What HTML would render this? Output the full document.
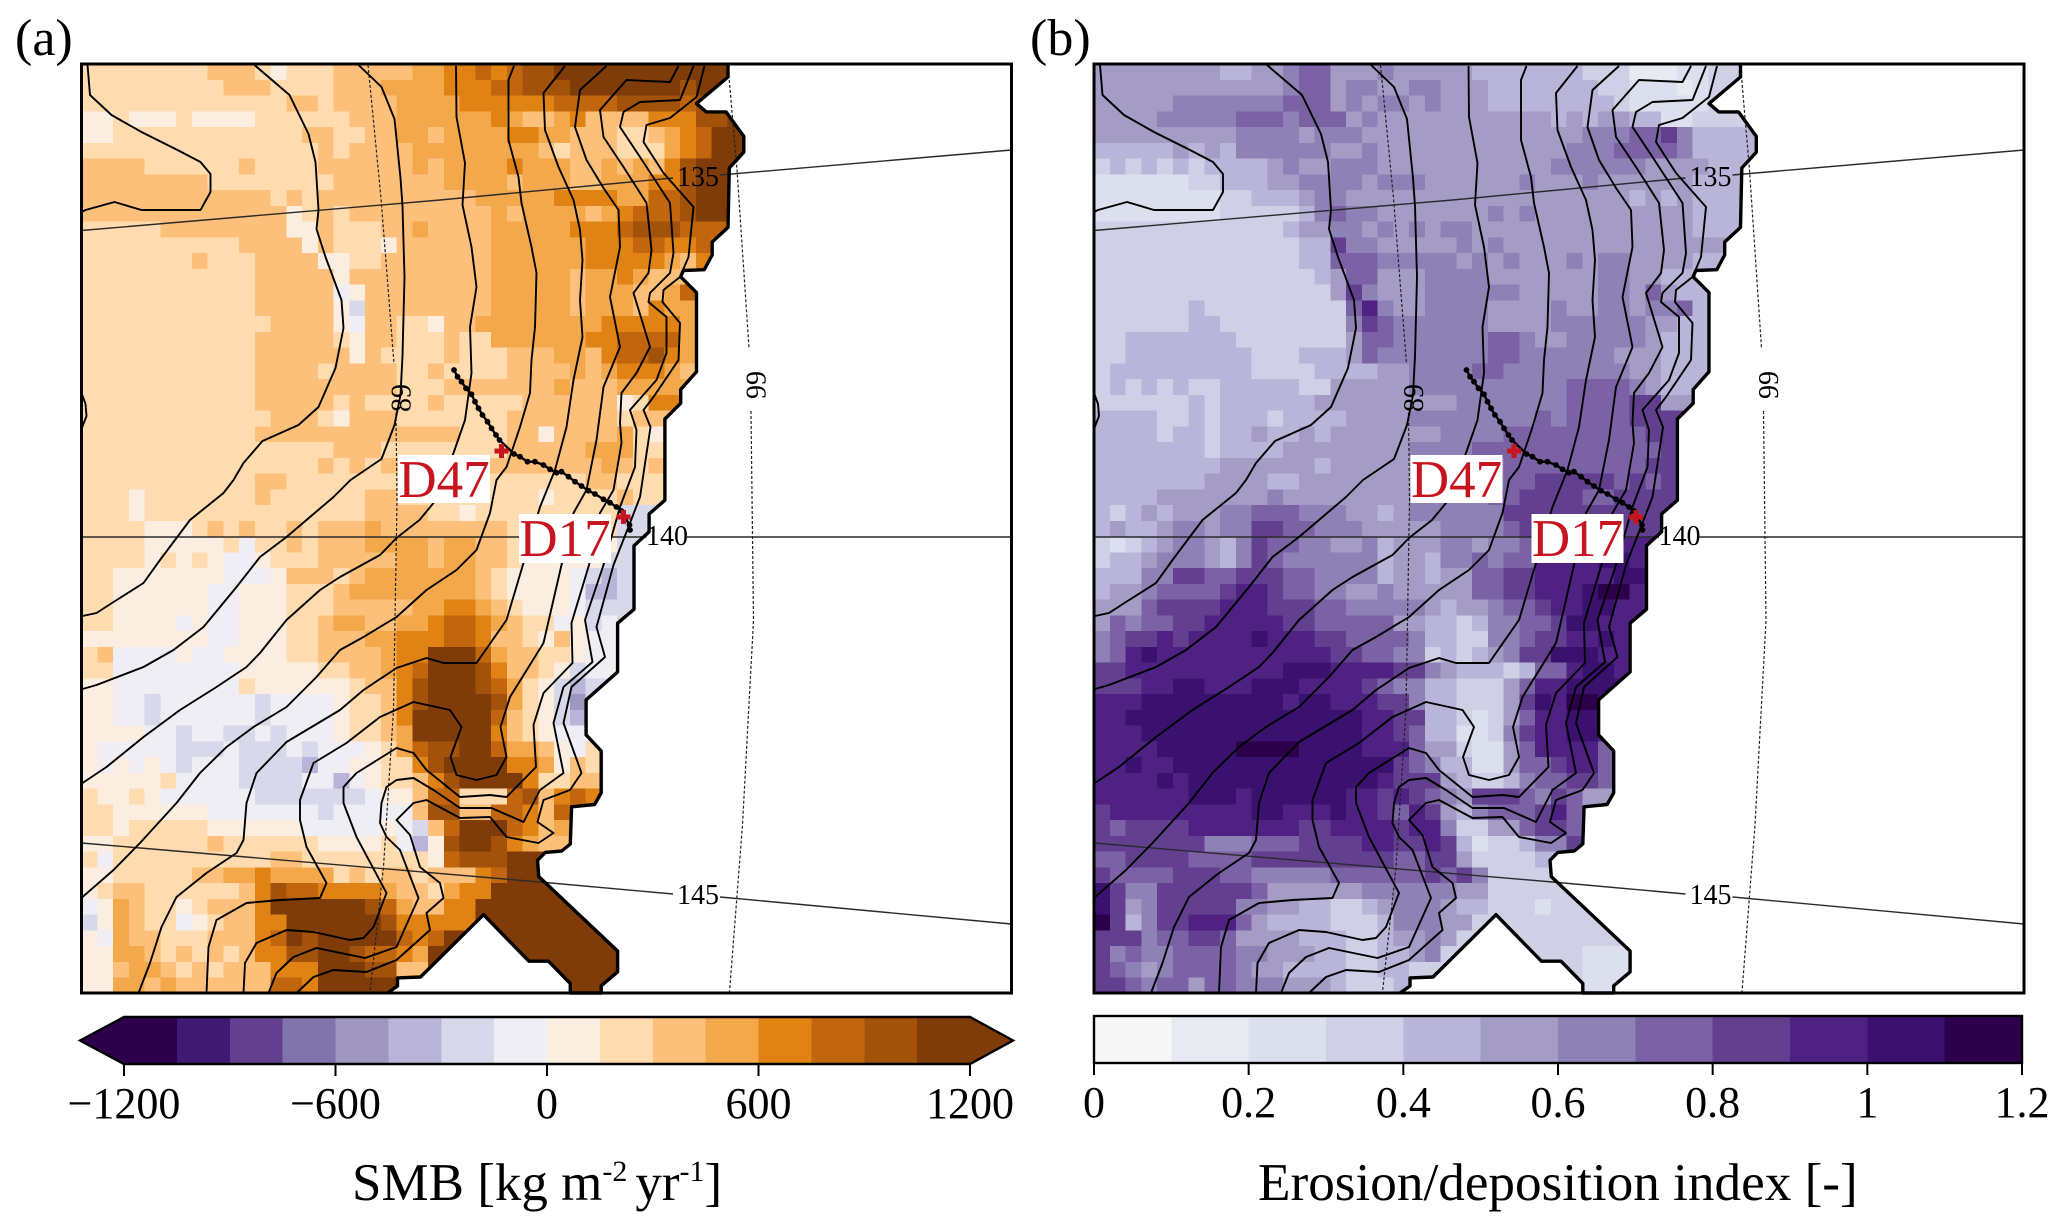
<!DOCTYPE html>
<html lang="en">
<head>
<meta charset="utf-8">
<title>SMB and erosion/deposition index maps</title>
<style>
html,body{margin:0;padding:0;background:#fff;}
svg{display:block;}
text{font-family:"Liberation Serif",serif;fill:#000;}
</style>
</head>
<body>
<svg id="figure" xmlns="http://www.w3.org/2000/svg" width="2067" height="1229" viewBox="0 0 2067 1229"></svg>
<script>
// ---- level codes per grid row (hex digit = colour class)
const smbLevelRows = [
"99999999aaa98999aaaaabbccdcdeeffffffffffff",
"999999999aaa9999aaabbbbcccddeeefffffffefff",
"9999999999999aa9aaaabbbbccccccddddeeeedeee",
"88988898888999999aaabbbbbbcbaabcaaaaccceef",
"88999999999999aa99aabbabbbbccbbaaa99abcdff",
"999999999999999a9aaaabbbbbbbba9aaa999bcdff",
"aaaa999999a9999aaaaaababbbbcbbbaababacefff",
"aaaaaaaa99999999aaaaaaabbbbabbbaabbbccefff",
"aaaaaaaaaaaa9a9aaaaaaaaaabbbbbccccbbddefff",
"aaaaaaaaaaaaa89a9aaaaaaaaababbbbabcdddefff",
"99999aaaaaaaa88a999aabaaaabbbbbcccdeeedddd",
"9999999999aaaa8a9998aaaaaabbbbbbcccddccdcc",
"9999999a999aaaa8899aaaaaaabbbbbbcccccbaccc",
"99999999999aaaaa8aaaaaaaaabbbbbabbcbaaaaaa",
"99999999999aaaaa78aaaaaaaabbbbbabbbaabdddd",
"99999999999aaaaa86aaaaaaaabbbbbabbbacbbaaa",
"999999999999aaaa87aa998aabbbbbbbbcccccbbbb",
"99999999999aaaaa98aa999a99bbbbbbccddddbbbb",
"99999999999aaaaaa8a9999a999aaabbacddecbbbb",
"99999999999aaaa9aaaa99a9999aaaababcccbaaaa",
"99999999999aaaaaaaaa999aaaaaaabaaabbbbbbbb",
"99999999999aaaaa9a9999a99999aaaaaa89cc",
"999999999999aaa98aaa9999999aaaaaaa9aa",
"99999999999aaaaaaaaaaaaa999aa8aaaab98",
"9999999999999999aaa99999999aaaaabbb99",
"999999999999999a9a9aaaaaaaaaaaaaaba9a",
"99999999999aa9999999999999999999aa999",
"99989999999a999999aa99999999989999a99",
"999899999999999999aaaa99899999999966",
"99998889a9a99a9aaabaaaaaaaa999999966",
"9999888889799a9aaabbbbabbaa999988866",
"999989898778999aaaaabbabbaa988888666",
"9988888887778aaa9abbbbbbba9888876566",
"9988888877888999abbbbbbbba9888875566",
"9988888877888999aaaaabbccba988876666",
"998888787788899abbaabbcddcba99786766",
"888888887788899aaabbcccddcaa98a87777",
"9a7777877888899aaaabccfffdbaa9987777",
"99777777778888899aabcdfffecaa9867777",
"887777777798888889aacefffedb98656",
"8877677777767777899aceffffeb98646",
"8877677777767777899acfffffda98656",
"8888776776676777899abfffffca98777",
"87777766676667677789bdeeffdbba879",
"878787677766665778899ceffffccb8a9",
"888889777766667757899aceffffc99aa",
"988987777776666666788add999deacdc",
"998888887777777677777aeeaaddcadd",
"9989999988888877777876adfffdcab",
"88999999a99999988889758effecba",
"979999999999aa999999998deeefff",
"8899999aabbcbbbb9a9aa9aaacdfff",
"89aa999999aceddccccbaa9bccffffff",
"78ba9989aaacffffffedbaaccfffffff",
"68ba99789aaccffffffecccccffffffff",
"87baa999aaacdfefffffdcdffffffffffff",
"88bba9a9a9acceeffeddcbfffffffffffff",
"88abba9a9aaacccfffeeaaffffffffffff",
"88bbabaaaaaaddcfffffffffffffffffff"
];
const erosionLevelRows = [
"555555554455677555655555444444433311122334",
"55555555555567756655665554444444332221233",
"555556666666777565665655544444444322222333",
"555566666777677756555555555554545544223333",
"555555555666656665555555555555566677864444",
"444445454666666556555555555555666777764444",
"34343434444565566655555555555666666555544",
"2222223344455666656665555556555655555544",
"22222222334445665555555555555555554545444",
"222222223333346766555555565655555555554444",
"33333333333345566565656655555555555555444",
"33333333333334486655555656555555555555",
"333333333333344777666665656555656655554",
"333333333333334577555666655555556655444",
"333333333333333586555666666555556657544",
"333333433333333379655666655556556656674",
"333333443333333368766666655556666665544",
"334444444333333357766666677655666665444",
"334444444433344457666666677666666555444",
"344444444433334444556666776666666655444",
"343434334444433555556666666666777765 44".replace(" ",""),
"333333434444445555555556666666777788 55".replace(" ",""),
"4444334344434444555566666666767777888",
"4444344344544545555555666677777777788",
"4444444344445555555566667777777777778",
"4444444455555545555555666677777777788",
"4444444555544555555555666677888887878",
"444455555556555555556666677888877888",
"43454555667776665545666666888888888",
"454456656688776665555566667888888888",
"32345665468776655645556656679999999",
"34456665468766666645546676779999aa9",
"44466887788877666645545577889999 9aa".replace(" ",""),
"4556777789987766556555557788999abb9",
"55578888999888776666654556778 99aa9".replace(" ",""),
"576778899999887777755443466778aa99",
"678898999 9a99988777764433667889 9a9".replace(/ /g,""),
"679a9999999999988776634345688aaa9",
"889999999999aaa9999886544434779aa99",
"88899aa999aaa99998766443335799aaa",
"999aaaaaaaaa9aa9998864433358a9bba",
"99aaaaaaaaaaaaaaa9988443235799aaa",
"999aaaaaaaaaaaaaa9987442236899aa9",
"9999aaaaabbbbaaaa9997553225799997",
"99a99aaaaaaaaaaaaaa876442257789 97".replace(" ",""),
"9999a9aaaaaaaaaaaa988854334677887",
"999999aaa9aaaaaa99898765888768755",
"8999999999aa999a998798546777 8975".replace(" ",""),
"878888999999988999989963355 78875".replace(" ",""),
"888888866677788889988984233466 88".replace(" ",""),
"77888877778888888887788533334444",
"877778887766666777777878633333333",
"a866888888755555566666655333333333",
"a856888886655443345666544333233333",
"b8468899975444433346665 53333333333".replace(" ",""),
"88867788755554443345565 333333333333 3".replace(/ /g,""),
"86766777766555443344563333333332222",
"87656777765544443344333333333332222",
"88767757766655543334333333333332222"
];
// ---- colour bars
const smbColors = ["#2d004b","#3f1a72","#62408f","#8173ab","#9f97c0","#bab5d8","#d7d8ea","#eeeef4","#fbeee0","#fedcb0","#fdc07a","#f4a84c","#e08214","#c1660f","#a2520a","#7f3b08"];
const erosionColors = ["#f7f7f7","#e8eaf2","#dcdfee","#cfcfe5","#b9b5d8","#a49cc5","#8e81b6","#7a62a5","#62408f","#4e2183","#3b1170","#2d004b"];
const smbTicks = [-1200,-600,0,600,1200];
const smbTickLabels = ["\u22121200","\u2212600","0","600","1200"];
const erosionTicks = [0,0.2,0.4,0.6,0.8,1,1.2];
const erosionTickLabels = ["0","0.2","0.4","0.6","0.8","1","1.2"];
// ---- elevation contours, map coordinates [east, south]
const contourA = [[6,1],[8.5,31],[30,51],[60,68],[96,86],[119,98],[129,110],[129,128],[119,146],[60,146],[33,138],[4,146],[0,148]];
const contourZ = [[0,329],[4,340],[5,352],[0,365]];
const contourB = [[173,1],[208,31],[227,70],[234,98],[237,146],[235,165],[244,193],[260,236],[262,264],[254,304],[237,343],[217,361],[181,377],[162,399],[152,416],[142,429],[108.5,456],[78.5,496],[62,519],[32,538],[15,549],[1,552]];
const contourC = [[277,1],[300,23],[313,55],[319,114],[321,142],[323,213],[321,292],[319,331],[313,361],[300,395],[269,416],[252,433],[228.5,453],[205,473],[178.5,493],[155,523],[122,563],[92,586],[62,603],[15,621],[1,625]];
const contourD = [[374.5,2],[375,53],[383.5,99],[381,141],[390,183],[395,223],[388.5,263],[390,309],[383.5,356],[372,389],[352,439],[338,456],[315,474],[298.5,491],[258.5,513],[238.5,526],[205,556],[178.5,589],[165,603],[135,623],[98.5,646],[62,673],[25,703],[1,719]];
const contourE = [[432.5,2],[427,16],[427,76],[437,113],[440,139],[450,183],[455,209],[453.5,263],[450,296],[448.5,329],[438.5,363],[425,403],[415,416],[408.5,449],[395,486],[375,506],[345,526],[315,553],[282,573],[258.5,586],[235,613],[205,643],[172,663],[145,683],[118.5,709],[95,739],[58.5,779],[32,806],[1,833]];
const contourF = [[483.5,2],[462,29],[463.5,66],[477,103],[492,136],[498.5,166],[501,196],[498.5,236],[501,273],[492,316],[485,363],[473.5,406],[458.5,443],[442,499],[425,556],[395,599],[362,599],[345,594],[315,604],[282,626],[258.5,646],[205,678],[175,709],[165,739],[162,776],[155,789],[125,809],[95,833],[80,863],[68.5,899],[57,929]];
const contourG = [[525,2],[498.5,26],[493.5,63],[505,96],[522,124],[537,146],[538.5,183],[528.5,233],[538.5,283],[522,323],[515,376],[505,426],[492,449],[480,501],[462,579],[428.5,633],[419,663],[425,693],[415,711],[395,716],[375,711],[369,693],[380,663],[368.5,646],[332,638],[298.5,653],[265,679],[232,699],[218.5,736],[218.5,756],[225,783],[245,819],[238.5,834],[198.5,836],[165,839],[135,856],[127,883],[125,929]];
const contourH = [[597,2],[588.5,18],[545,16],[518.5,46],[522,73],[542,103],[565,139],[570,186],[567,209],[552,229],[568.5,283],[555,309],[540,329],[538.5,359],[540,379],[532,426],[518.5,449],[507.5,501],[490,559],[491,599],[462,629],[452,661],[454.5,703],[425,733],[408.5,731],[378.5,733],[345,706],[332,689],[315,684],[275,709],[262,723],[262,739],[275,773],[305,829],[292,863],[282,874],[268.5,876],[232,868],[205,866],[175,879],[163.5,899],[162,929]];
const contourI = [[612,2],[598.5,36],[558.5,38],[542,48],[538.5,63],[558.5,93],[588.5,139],[592,189],[588.5,209],[568.5,229],[567,238],[585,253],[585,289],[575,316],[548.5,346],[555,366],[553.5,403],[538.5,443],[522,501],[503.5,556],[511,598],[482,623],[472,659],[482,709],[458.5,726],[442,758],[410,744],[378.5,744],[352,726],[332,714],[315,716],[305,723],[300,739],[298.5,759],[305,773],[318.5,786],[337,834],[315,883],[283.5,894],[235,884],[212,893],[195,909],[187,929]];
const contourJ = [[623,2],[615,33],[588.5,54],[565,61],[562,78],[582,109],[612,143],[607,193],[598.5,213],[582,226],[581,238],[598.5,259],[597,296],[572,333],[562,346],[569,363],[558.5,433],[548.5,459],[532,501],[515,563],[523.5,593],[490,623],[482,659],[500,709],[488.5,726],[462,736],[456,758],[472,769],[457,779],[425,773],[408.5,753],[378.5,754],[345,736],[332,739],[315,756],[328.5,771],[338.5,803],[358.5,819],[362,834],[345,849],[348.5,866],[315,896],[285,908],[252,906],[232,913],[215,929]];
const contours = [contourA,contourZ,contourB,contourC,contourD,contourE,contourF,contourG,contourH,contourI,contourJ];
// ---- coastline (ice-sheet edge)
const coastline = [[646.5,0],[646.5,13],[615,39.6],[624.8,47.9],[644.5,47.9],[662.3,72.4],[662.3,88.2],[647.8,104],[646.5,163.4],[630.7,178],[630.7,191],[622.8,205.7],[601.8,206.5],[599.2,212.8],[615,228.6],[615,307.7],[599.2,325.5],[599.2,339.3],[583.4,355],[583.4,436.2],[567.6,450],[567.6,467.8],[552.5,481.7],[552.5,545.3],[536.1,559.2],[536.1,608],[504.6,635.9],[504.6,670.8],[519.7,687],[519.7,728.9],[513.1,740.5],[490.1,742.8],[488.8,780],[480.3,787],[463.8,788.4],[456,796.3],[457.3,812.6],[536.1,887],[536.1,907.9],[519.7,921.8],[519.7,929],[488.8,929],[488.8,919.5],[467,897.2],[447.4,897.2],[402,850.7],[339,913],[316,913.9],[316,922],[306,929]];
// ---- graticule
const lon135 = [[[0,166.5],[358.5,136],[591.5,114]],[[638.5,111],[930,86]]];
const lon140 = [[[0,473],[565,473]],[[605.5,473],[930,473]]];
const lon145 = [[[0,779],[458.5,818],[591.5,830]],[[638.5,833],[930,860]]];
const lat89 = [[[286.5,1],[299.5,134],[312.5,300]],[[314.5,349],[315.5,436],[312,646],[302,803],[288.5,928]]];
const lat99 = [[[646.5,1],[655.5,106],[667.5,284]],[[669.5,347],[672,556],[671,575],[661,761],[648,928]]];
const lonLabels = [["135",616.5,112],["140",585.5,471],["145",616.5,830]];
const latLabels = [["89",319,334],["99",674,321]];
// ---- transect dots and sites
const transectEast = [372.5,376,380,384.5,390,393.5,397,401,406,410,414.5,418,432.5,438.5,446,453.5,462,468.5,475,480,487,493.5,500,507,513.5,522,528.5,535,540,548,548.5];
const transectSouth = [306,312.7,317.7,324.3,330.3,337.7,344.3,351,357.7,364.3,371,376,390,392.7,397.7,397.7,401,405.3,408.7,407.7,412.7,417.7,422,426.7,430,435.3,438.7,443,447,461,466];
const sites = [["D47",420,387,316.5,391,92,48],["D17",542,453,437.5,450,92,49]];

const svg = document.getElementById('figure');
const NS = 'http://www.w3.org/2000/svg';
function make(tag, attrs, parent){
  const n = document.createElementNS(NS, tag);
  for (const k in attrs) n.setAttribute(k, attrs[k]);
  (parent || svg).appendChild(n);
  return n;
}
const CELL = 15.75, MAP = 929, TOP = 64, GRID_COLS = 46;
function ptsString(line, sx, sy){ return line.map(p => sx(p[0]) + ',' + sy(p[1])).join(' '); }
const smbValue = code => -1200 + (code + 0.5) * 150;
const smbColor = v => smbColors[Math.max(0, Math.min(15, Math.floor((v + 1200) / 150)))];
const erosionValue = code => (code + 0.5) * 0.1;
const erosionColor = v => erosionColors[Math.max(0, Math.min(11, Math.floor(v / 0.1)))];

function drawPanel(id, left, rows, toValue, toColor){
  const sx = e => left + e;
  const sy = s => TOP + s;
  const g = make('g', {});
  
  
  const clip = make('clipPath', {id: id + '-clip'}, g);
  const mask = coastline.concat([[0,MAP],[0,0]]);
  make('polygon', {points: ptsString(mask, sx, sy)}, clip);
  const cells = make('g', {'clip-path': 'url(#' + id + '-clip)', 'shape-rendering': 'crispEdges'}, g);
  
  
  rows.forEach((row, r) => {
    const full = row.padEnd(GRID_COLS, row[row.length - 1]);
    [...full].forEach((ch, c) => {
      const v = toValue(parseInt(ch, 16));
      const rect = make('rect', {x: sx(c * CELL), y: sy(r * CELL), width: CELL + 0.6, height: CELL + 0.6, fill: toColor(v)}, cells);
      
      
    });
  });
  [lon135, lon140, lon145].forEach(parts => parts.forEach(part => {
    const l = make('polyline', {points: ptsString(part, sx, sy), fill: 'none', stroke: '#2a2a2a', 'stroke-width': 1.4}, g);
    
    
  }));
  [lat89, lat99].forEach(parts => parts.forEach(part => {
    const l = make('polyline', {points: ptsString(part, sx, sy), fill: 'none', stroke: '#222', 'stroke-width': 1.2, 'stroke-dasharray': '3 2'}, g);
    
    
  }));
  contours.forEach(line => {
    const l = make('polyline', {points: ptsString(line, sx, sy), fill: 'none', stroke: '#000', 'stroke-width': 1.9, 'stroke-linejoin': 'round'}, g);
    
    
  });
  const coast = make('polyline', {points: ptsString(coastline, sx, sy), fill: 'none', stroke: '#000', 'stroke-width': 3.4, 'stroke-linejoin': 'round'}, g);
  
  
  const transectPoints = transectEast.map((e, i) => [e, transectSouth[i]]);
  const trackLine = make('polyline', {points: ptsString(transectPoints, sx, sy), fill: 'none', stroke: '#000', 'stroke-width': 2.4}, g);
  
  
  transectEast.forEach((e, i) => {
    const d = make('circle', {cx: sx(e), cy: sy(transectSouth[i]), r: 2.9, fill: '#000'}, g);
    
    
  });
  lonLabels.forEach(L => {
    const t = make('text', {x: sx(L[1]), y: sy(L[2]) + 10, 'font-size': 28, 'text-anchor': 'middle'}, g);
    t.textContent = L[0];
    
    
  });
  latLabels.forEach(L => {
    const t = make('text', {'font-size': 28, 'text-anchor': 'middle', transform: 'translate(' + (sx(L[1]) + 10) + ',' + sy(L[2]) + ') rotate(-90)'}, g);
    t.textContent = L[0];
    
    
  });
  sites.forEach(S => {
    const mx = sx(S[1]), my = sy(S[2]);
    const cross = make('path', {d: 'M' + (mx - 7) + ' ' + my + 'H' + (mx + 7) + 'M' + mx + ' ' + (my - 7) + 'V' + (my + 7), stroke: '#c8141e', 'stroke-width': 5, fill: 'none'}, g);
    
    
    const box = make('rect', {x: sx(S[3]), y: sy(S[4]), width: S[5], height: S[6], fill: '#fff'}, g);
    
    
    const t = make('text', {x: sx(S[3]) + 46, y: sy(S[4]) + 42, 'font-size': 53, 'text-anchor': 'middle', style: 'fill:#c8141e'}, g);
    t.textContent = S[0];
    
    
  });
  const frame = make('rect', {x: left, y: TOP, width: 930, height: MAP, fill: 'none', stroke: '#000', 'stroke-width': 3}, g);
  
  
}

function drawTicks(parent, ticks, labels, scale, axisY, baseline){
  ticks.forEach((v, i) => {
    const x = scale(v);
    const tick = make('line', {x1: x, x2: x, y1: axisY, y2: axisY + 12, stroke: '#000', 'stroke-width': 2}, parent);
    
    
    const t = make('text', {x: x, y: baseline, 'font-size': 44, 'text-anchor': 'middle'}, parent);
    t.textContent = labels[i];
    
    
  });
}

drawPanel('smb-panel', 81.5, smbLevelRows, smbValue, smbColor);
drawPanel('erosion-panel', 1094, erosionLevelRows, erosionValue, erosionColor);

// SMB colour bar
const cbA = make('g', {});


const smbX = v => 124 + (v + 1200) / 2400 * 846;
const tipL = make('polygon', {points: '80,1040.5 124.5,1017 124.5,1064', fill: smbColors[0]}, cbA);


const tipR = make('polygon', {points: '1013,1040.5 969.5,1017 969.5,1064', fill: smbColors[15]}, cbA);


smbColors.forEach((c, i) => {
  const seg = make('rect', {x: smbX(-1200 + i * 150), y: 1017, width: 846 / 16 + 0.5, height: 47, fill: c, 'shape-rendering': 'crispEdges'}, cbA);
  
  
});
const outA = make('polygon', {points: '80,1040.5 124,1017 970,1017 1013,1040.5 970,1064 124,1064', fill: 'none', stroke: '#000', 'stroke-width': 2.4}, cbA);


drawTicks(cbA, smbTicks, smbTickLabels, smbX, 1064, 1118);

// Erosion colour bar
const cbB = make('g', {});


const eroX = v => 1094 + v / 1.2 * 928;
erosionColors.forEach((c, i) => {
  const seg = make('rect', {x: eroX(i * 0.1), y: 1016, width: 928 / 12 + 0.5, height: 47, fill: c, 'shape-rendering': 'crispEdges'}, cbB);
  
  
});
const outB = make('rect', {x: 1094, y: 1016, width: 928, height: 47, fill: 'none', stroke: '#000', 'stroke-width': 2.4}, cbB);


drawTicks(cbB, erosionTicks, erosionTickLabels, eroX, 1063, 1117);

// Panel letters and colour-bar titles
const letterA = make('text', {x: 15, y: 55, 'font-size': 52});
letterA.textContent = '(a)';


const letterB = make('text', {x: 1030, y: 55, 'font-size': 52});
letterB.textContent = '(b)';



const titleA = make('text', {x: 352, y: 1200, 'font-size': 53});


const p1 = make('tspan', {}, titleA); p1.textContent = 'SMB [kg m';
const p2 = make('tspan', {'font-size': 30, dy: -19}, titleA); p2.textContent = '-2';
const p3 = make('tspan', {dy: 19, dx: 8}, titleA); p3.textContent = 'yr';
const p4 = make('tspan', {'font-size': 30, dy: -19}, titleA); p4.textContent = '-1';
const p5 = make('tspan', {dy: 19}, titleA); p5.textContent = ']';

const titleB = make('text', {x: 1258, y: 1200, 'font-size': 53.2});
titleB.textContent = 'Erosion/deposition index [-]';


</script>
</body>
</html>
